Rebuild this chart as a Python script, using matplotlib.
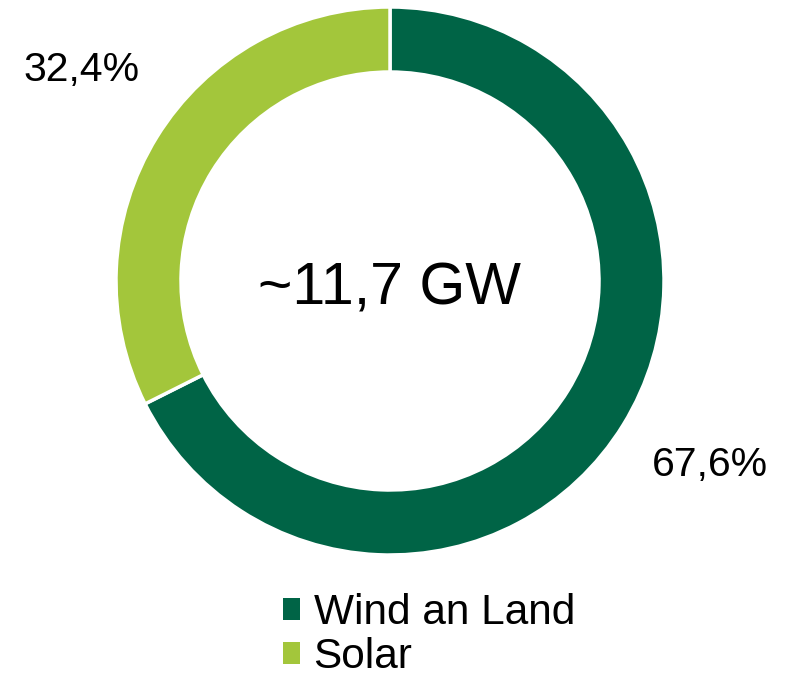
import matplotlib.pyplot as plt

plt.rcParams['font.family'] = ['Liberation Sans', 'DejaVu Sans']

# data
labels = ['Wind an Land', 'Solar']
shares = [67.6, 32.4]
share_text = ['67,6%', '32,4%']
colors = ['#006446', '#A3C63B']
total_text = '~11,7 GW'

W, H = 790, 679
fig = plt.figure(figsize=(W / 100, H / 100), dpi=100)

# donut centre (390, 281) px, radius 274 px
cx, cy, r = 390, 281, 274
ax = fig.add_axes([(cx - r) / W, (H - cy - r) / H, 2 * r / W, 2 * r / H])
wedges, _ = ax.pie(shares, colors=colors, startangle=90, counterclock=False,
                   radius=1.0,
                   wedgeprops=dict(width=65 / 274, edgecolor='white', linewidth=2.5))
ax.set_xlim(-1, 1)
ax.set_ylim(-1, 1)
ax.set_aspect('equal')
ax.axis('off')

ax.text(0, -0.03, total_text, ha='center', va='center', fontsize=42.5)

# percentage labels
fig.text(82 / W, 1 - 70 / H, share_text[1], ha='center', va='center', fontsize=29.5)
fig.text(710 / W, 1 - 465 / H, share_text[0], ha='center', va='center', fontsize=29.5)

leg = fig.legend(wedges, labels, loc='upper left',
                 bbox_to_anchor=(283 / W, 1 - 593 / H),
                 frameon=False, fontsize=30.5,
                 handlelength=0.4, handleheight=0.4,
                 handletextpad=0.32, labelspacing=0.1,
                 borderpad=0, borderaxespad=0)
for h in leg.legend_handles:
    h.set_edgecolor('none')

fig.savefig('out.png', dpi=100)
